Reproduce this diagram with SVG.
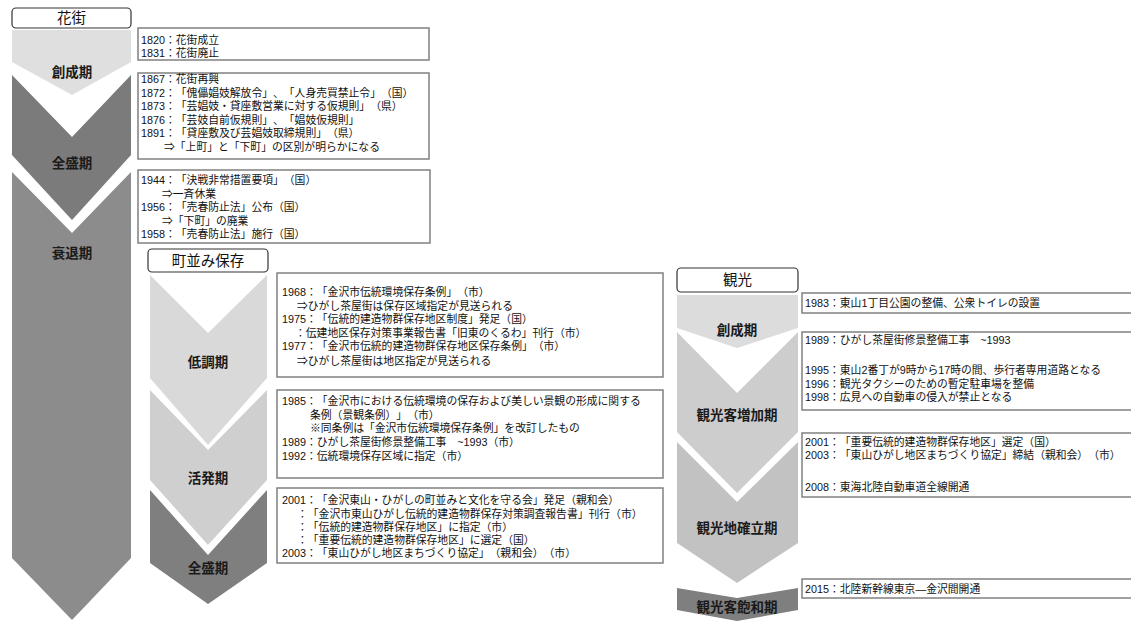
<svg xmlns="http://www.w3.org/2000/svg" width="1131" height="621" viewBox="0 0 1131 621">
<style>
  .hdr { fill: #ffffff; stroke: #333333; stroke-width: 1.2; }
  .hdrt { font-family: "Liberation Sans", "Noto Sans CJK JP", sans-serif; font-size: 14.5px; fill: #111; text-anchor: middle; dominant-baseline: central; }
  .lbl { font-family: "Liberation Sans", "Noto Sans CJK JP", sans-serif; font-size: 13.5px; font-weight: bold; fill: #1a1a1a; text-anchor: middle; dominant-baseline: central; }
  .box { fill: #ffffff; stroke: #808080; stroke-width: 1.5; }
  .t { font-family: "Liberation Sans", "Noto Sans CJK JP", sans-serif; font-size: 10.8px; fill: #111; dominant-baseline: central; text-spacing-trim: space-all; }
  .c1 { fill: #dfdfdf; } .c2 { fill: #7b7b7b; } .c3 { fill: #8c8c8c; }
  .m1 { fill: #d9d9d9; } .m2 { fill: #cfcfcf; } .m3 { fill: #7f7f7f; }
  .k1 { fill: #dcdcdc; } .k2 { fill: #cdcdcd; } .k3 { fill: #c2c2c2; } .k4 { fill: #7f7f7f; }
</style>

<!-- Column 1: 花街 -->
<g id="hanamachi-header">
  <rect class="hdr" x="12" y="8" width="119" height="20" rx="4"/>
  <text class="hdrt" x="71.5" y="18">花街</text>
</g>
<g id="hanamachi-sousei">
  <polygon class="c1" points="12,30 131,30 131,62 72,95 12,62"/>
  <text class="lbl" x="72" y="72">創成期</text>
</g>
<g id="hanamachi-zensei">
  <polygon class="c2" points="12,75 72,137 131,75 131,155 72,220 12,155"/>
  <text class="lbl" x="72" y="163">全盛期</text>
</g>
<g id="hanamachi-suitai">
  <polygon class="c3" points="12,172 72,233 131,172 131,558 72,620 12,558"/>
  <text class="lbl" x="72" y="253">衰退期</text>
</g>
<g id="box-1820">
  <rect class="box" x="138" y="28" width="291" height="32"/>
  <text class="t" x="141" y="40">1820：花街成立</text>
  <text class="t" x="141" y="53">1831：花街廃止</text>
</g>
<g id="box-1867">
  <rect class="box" x="138" y="73" width="291" height="86"/>
  <text class="t" x="141" y="79">1867：花街再興</text>
  <text class="t" x="141" y="92.5">1872：「傀儡娼妓解放令」、「人身売買禁止令」（国）</text>
  <text class="t" x="141" y="106">1873：「芸娼妓・貸座敷営業に対する仮規則」（県）</text>
  <text class="t" x="141" y="119.5">1876：「芸妓自前仮規則」、「娼妓仮規則」</text>
  <text class="t" x="141" y="133">1891：「貸座敷及び芸娼妓取締規則」（県）</text>
  <text class="t" x="164" y="146.5">⇒「上町」と「下町」の区別が明らかになる</text>
</g>
<g id="box-1944">
  <rect class="box" x="138" y="170" width="292" height="73"/>
  <text class="t" x="141" y="180">1944：「決戦非常措置要項」（国）</text>
  <text class="t" x="162" y="193.5">⇒一斉休業</text>
  <text class="t" x="141" y="207">1956：「売春防止法」公布（国）</text>
  <text class="t" x="162" y="220.5">⇒「下町」の廃業</text>
  <text class="t" x="141" y="234">1958：「売春防止法」施行（国）</text>
</g>

<!-- Column 2: 町並み保存 -->
<g id="machinami-header">
  <rect class="hdr" x="148" y="249" width="120" height="23" rx="4"/>
  <text class="hdrt" x="208" y="260.5">町並み保存</text>
</g>
<g id="machinami-teichou">
  <polygon class="m1" points="150,275 208,333 267,275 267,378 208,445 150,378"/>
  <text class="lbl" x="208" y="362">低調期</text>
</g>
<g id="machinami-kappatsu">
  <polygon class="m2" points="150,390 208,450 267,390 267,480 208,545 150,480"/>
  <text class="lbl" x="208" y="478">活発期</text>
</g>
<g id="machinami-zensei">
  <polygon class="m3" points="150,490 208,555 267,490 267,563 208,604 150,563"/>
  <text class="lbl" x="208" y="568">全盛期</text>
</g>
<g id="box-1968">
  <rect class="box" x="277" y="273" width="386" height="104"/>
  <text class="t" x="282" y="292">1968：「金沢市伝統環境保存条例」（市）</text>
  <text class="t" x="297" y="305.5">⇒ひがし茶屋街は保存区域指定が見送られる</text>
  <text class="t" x="282" y="319">1975：「伝統的建造物群保存地区制度」発足（国）</text>
  <text class="t" x="295" y="332.5">：伝建地区保存対策事業報告書「旧東のくるわ」刊行（市）</text>
  <text class="t" x="282" y="346">1977：「金沢市伝統的建造物群保存地区保存条例」（市）</text>
  <text class="t" x="297" y="361">⇒ひがし茶屋街は地区指定が見送られる</text>
</g>
<g id="box-1985">
  <rect class="box" x="277" y="390" width="386" height="88"/>
  <text class="t" x="282" y="401">1985：「金沢市における伝統環境の保存および美しい景観の形成に関する</text>
  <text class="t" x="310" y="414.5">条例（景観条例）」（市）</text>
  <text class="t" x="310" y="428">※同条例は「金沢市伝統環境保存条例」を改訂したもの</text>
  <text class="t" x="282" y="442">1989：ひがし茶屋街修景整備工事　~1993（市）</text>
  <text class="t" x="282" y="455.5">1992：伝統環境保存区域に指定（市）</text>
</g>
<g id="box-2001a">
  <rect class="box" x="277" y="488" width="386" height="75"/>
  <text class="t" x="282" y="500">2001：「金沢東山・ひがしの町並みと文化を守る会」発足（親和会）</text>
  <text class="t" x="297" y="513.5">：「金沢市東山ひがし伝統的建造物群保存対策調査報告書」刊行（市）</text>
  <text class="t" x="297" y="527">：「伝統的建造物群保存地区」に指定（市）</text>
  <text class="t" x="297" y="540">：「重要伝統的建造物群保存地区」に選定（国）</text>
  <text class="t" x="282" y="553">2003：「東山ひがし地区まちづくり協定」（親和会）（市）</text>
</g>

<!-- Column 3: 観光 -->
<g id="kankou-header">
  <rect class="hdr" x="677" y="268" width="121" height="24" rx="4"/>
  <text class="hdrt" x="737.5" y="280">観光</text>
</g>
<g id="kankou-sousei">
  <polygon class="k1" points="677,295 798,295 798,328 737,348 677,328"/>
  <text class="lbl" x="737" y="330">創成期</text>
</g>
<g id="kankou-zouka">
  <polygon class="k2" points="677,332 737,393 798,332 798,432 737,493 677,432"/>
  <text class="lbl" x="737" y="415">観光客増加期</text>
</g>
<g id="kankou-kakuritsu">
  <polygon class="k3" points="677,442 737,502 798,442 798,543 737,583 677,543"/>
  <text class="lbl" x="737" y="528">観光地確立期</text>
</g>
<g id="kankou-houwa">
  <polygon class="k4" points="677,588 737,598 798,588 798,610 737,621 677,610"/>
  <text class="lbl" x="737" y="607">観光客飽和期</text>
</g>
<g id="box-1983">
  <rect class="box" x="802" y="293" width="340" height="20"/>
  <text class="t" x="805" y="303">1983：東山1丁目公園の整備、公衆トイレの設置</text>
</g>
<g id="box-1989">
  <rect class="box" x="802" y="332" width="340" height="78"/>
  <text class="t" x="805" y="340">1989：ひがし茶屋街修景整備工事　~1993</text>
  <text class="t" x="805" y="370">1995：東山2番丁が9時から17時の間、歩行者専用道路となる</text>
  <text class="t" x="805" y="384">1996：観光タクシーのための暫定駐車場を整備</text>
  <text class="t" x="805" y="397">1998：広見への自動車の侵入が禁止となる</text>
</g>
<g id="box-2001b">
  <rect class="box" x="802" y="433" width="340" height="64"/>
  <text class="t" x="805" y="442">2001：「重要伝統的建造物群保存地区」選定（国）</text>
  <text class="t" x="805" y="455">2003：「東山ひがし地区まちづくり協定」締結（親和会）（市）</text>
  <text class="t" x="805" y="487">2008：東海北陸自動車道全線開通</text>
</g>
<g id="box-2015">
  <rect class="box" x="802" y="579" width="340" height="19"/>
  <text class="t" x="805" y="588.5">2015：北陸新幹線東京—金沢間開通</text>
</g>

<g id="connectors"/>
</svg>
